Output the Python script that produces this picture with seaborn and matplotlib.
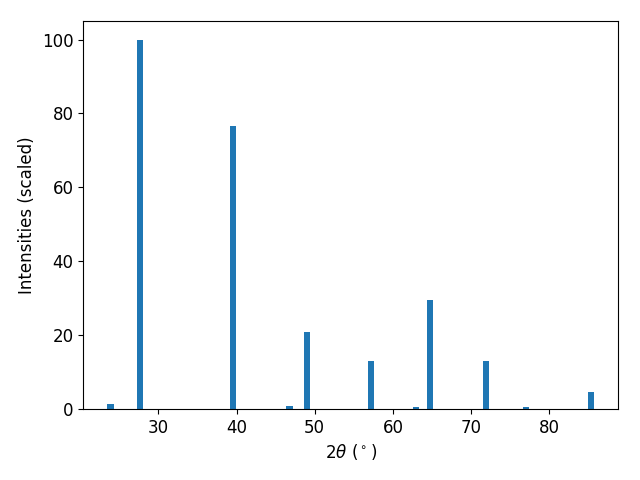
import numpy as np
import pandas as pd
import matplotlib
matplotlib.use('Agg')
import matplotlib.pyplot as plt
import seaborn as sns

# peak positions (2theta, degrees) and scaled intensities
two_theta = [23.9, 27.69, 39.54, 46.76, 48.98, 57.2, 62.97, 64.7, 71.9, 77.0, 85.3]
intensity = [1.4, 100.0, 76.7, 0.9, 20.9, 13.1, 0.4, 29.6, 13.1, 0.4, 4.5]

df = pd.DataFrame({'two_theta': two_theta, 'intensity': intensity})

fig, ax = plt.subplots(figsize=(6.4, 4.8), dpi=100)

# native_scale width is relative to the smallest gap between peaks -> 0.8 deg bars
min_gap = np.diff(np.sort(df['two_theta'].values)).min()
sns.barplot(data=df, x='two_theta', y='intensity', native_scale=True,
            width=0.8 / min_gap, color='#1f77b4', saturation=1,
            errorbar=None, ax=ax)

ax.set_xlim(20.4, 88.8)
ax.set_ylim(0, 105)
ax.set_xlabel(r'$2\theta$ ($^\circ$)', fontsize=12)
ax.set_ylabel('Intensities (scaled)', fontsize=12)
ax.tick_params(labelsize=12)

fig.subplots_adjust(left=0.13, right=0.966, bottom=0.148, top=0.956)
plt.savefig('out.png')
